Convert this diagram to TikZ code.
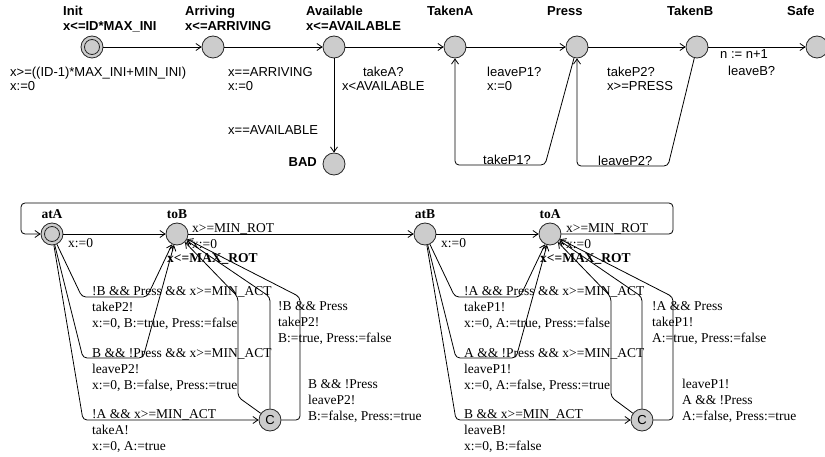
\documentclass[tikz,border=0pt]{standalone}
\usepackage{fontspec}
\setmainfont{Liberation Serif}
\setsansfont{Liberation Sans}
\usetikzlibrary{arrows.meta}
\tikzset{
  loc/.style={circle, draw=black!85, fill=gray!40, line width=.8pt,
    minimum size=22pt, inner sep=0pt},
  initloc/.style={loc, path picture={\draw[line width=.8pt]
      (path picture bounding box.center) circle (7.5pt);}},
  comloc/.style={loc, font=\sffamily\fontsize{13}{14}\selectfont},
  edge/.style={draw=black, line width=.8pt, rounded corners=4pt,
    -{Straight Barb[length=5pt,width=7pt]}},
  sflab/.style={inner sep=0pt, anchor=north west, align=left,
    font=\sffamily\fontsize{13}{14}\selectfont},
  sfname/.style={sflab, font=\sffamily\bfseries\fontsize{13}{15}\selectfont},
  rmlab/.style={inner sep=0pt, anchor=north west, align=left,
    font=\rmfamily\fontsize{13.5}{16}\selectfont},
  rmname/.style={inner sep=0pt, anchor=base,
    font=\rmfamily\bfseries\fontsize{13.5}{16}\selectfont},
}
\begin{document}
\begin{tikzpicture}[x=1pt,y=-1pt]
  \useasboundingbox (0,0) rectangle (825,457);
  % first automaton
  \node[initloc] (init) at (92,47) {};
  \node[loc] (arriving) at (213,47) {};
  \node[loc] (available) at (334,47) {};
  \node[loc] (takenA) at (455,47) {};
  \node[loc] (press) at (577,47) {};
  \node[loc] (takenB) at (697,47) {};
  \node[loc] (safe) at (817,47) {};
  \node[loc] (bad) at (334,164) {};
  \node[sfname] (initname) at (63,6) {Init\\x<=ID*MAX\_INI};
  \node[sfname] (arrivingname) at (185,6) {Arriving\\x<=ARRIVING};
  \node[sfname] (availablename) at (306,6) {Available\\x<=AVAILABLE};
  \node[sfname] (takenAname) at (427,6) {TakenA};
  \node[sfname] (pressname) at (547,6) {Press};
  \node[sfname] (takenBname) at (667,6) {TakenB};
  \node[sfname] (safename) at (787,6) {Safe};
  \node[sfname, anchor=north east] (badname) at (317,157) {BAD};
  \draw[edge] (init) -- (arriving);
  \draw[edge] (arriving) -- (available);
  \draw[edge] (available) -- (takenA);
  \draw[edge] (available) -- (bad);
  \draw[edge] (takenA) -- (press);
  \draw[edge] (press) -- (takenB);
  \draw[edge] (takenB) -- (safe);
  \draw[edge] (press) -- (545,165) -- (455,165) -- (takenA);
  \draw[edge] (takenB) -- (668,166) -- (577,166) -- (press);
  \node[sflab] (initguard) at (10,67) {x>=((ID-1)*MAX\_INI+MIN\_INI)\\x:=0};
  \node[sflab] (arrivingguard) at (228,67) {x==ARRIVING\\x:=0};
  \node[sflab] (badguard) at (228,125.5) {x==AVAILABLE};
  \node[sflab, align=center] (takeAsync) at (342,67) {takeA?\\x<AVAILABLE};
  \node[sflab] (leaveP1sync) at (487,67) {leaveP1?\\x:=0};
  \node[sflab] (takeP2sync) at (607,67) {takeP2?\\x>=PRESS};
  \node[sflab] (safeupdate) at (720,49.5) {n := n+1};
  \node[sflab] (leaveBsync) at (728,65.5) {leaveB?};
  \node[sflab] (takeP1sync) at (483,154.5) {takeP1?};
  \node[sflab] (leaveP2sync) at (598,155.5) {leaveP2?};
  % second automaton
  \node[initloc] (atA) at (52,234) {};
  \node[loc] (toB) at (177,234) {};
  \node[loc] (atB) at (425,234) {};
  \node[loc] (toA) at (550,234) {};
  \node[comloc] (cToB) at (270,420) {C};
  \node[comloc] (cToA) at (642,420) {C};
  \node[rmname] (atAname) at (52,219) {atA};
  \node[rmname] (toBname) at (177,219) {toB};
  \node[rmname] (atBname) at (425,219) {atB};
  \node[rmname] (toAname) at (550,219) {toA};
  \node[rmname, anchor=base west] (toBinv) at (167,262) {x<=MAX\_ROT};
  \node[rmname, anchor=base west] (toAinv) at (540,263) {x<=MAX\_ROT};
  \draw[edge] (toA) -- (673,234) -- (673,203) -- (21,203) -- (21,234) -- (atA);
  \draw[edge] (atA) -- (toB);
  \draw[edge] (toB) -- (atB);
  \draw[edge] (atB) -- (toA);
  \draw[edge] (atA) -- (82,297) -- (147,297) -- (toB);
  \draw[edge] (atA) -- (83,358) -- (143,358) -- (toB);
  \draw[edge] (atA) -- (83,420) -- (cToB);
  \draw[edge] (cToB) -- (238,397) -- (238,297) -- (toB);
  \draw[edge] (cToB) -- (270,297) -- (toB);
  \draw[edge] (cToB) -- (300,420) -- (300,297) -- (toB);
  \draw[edge] (atB) -- (455,297) -- (520,297) -- (toA);
  \draw[edge] (atB) -- (456,358) -- (516,358) -- (toA);
  \draw[edge] (atB) -- (456,420) -- (cToA);
  \draw[edge] (cToA) -- (611,397) -- (611,297) -- (toA);
  \draw[edge] (cToA) -- (642,297) -- (toA);
  \draw[edge] (cToA) -- (673,420) -- (673,297) -- (toA);
  \node[rmlab] (toBguard) at (192,223) {x>=MIN\_ROT\\x:=0};
  \node[rmlab] (toAguard) at (566,223) {x>=MIN\_ROT\\x:=0};
  \node[rmlab] (atAupdate) at (68,238) {x:=0};
  \node[rmlab] (atBupdate) at (441,238) {x:=0};
  \node[rmlab] (takeP2act) at (92,286) {!B \&\& Press \&\& x>=MIN\_ACT\\takeP2!\\x:=0, B:=true, Press:=false};
  \node[rmlab] (leaveP2act) at (92,348) {B \&\& !Press \&\& x>=MIN\_ACT\\leaveP2!\\x:=0, B:=false, Press:=true};
  \node[rmlab] (takeAact) at (92,409.5) {!A \&\& x>=MIN\_ACT\\takeA!\\x:=0, A:=true};
  \node[rmlab] (takeP2com) at (278,301) {!B \&\& Press\\takeP2!\\B:=true, Press:=false};
  \node[rmlab] (leaveP2com) at (308,379) {B \&\& !Press\\leaveP2!\\B:=false, Press:=true};
  \node[rmlab] (takeP1act) at (464,286) {!A \&\& Press \&\& x>=MIN\_ACT\\takeP1!\\x:=0, A:=true, Press:=false};
  \node[rmlab] (leaveP1act) at (464,348) {A \&\& !Press \&\& x>=MIN\_ACT\\leaveP1!\\x:=0, A:=false, Press:=true};
  \node[rmlab] (leaveBact) at (464,409.5) {B \&\& x>=MIN\_ACT\\leaveB!\\x:=0, B:=false};
  \node[rmlab] (takeP1com) at (652,301) {!A \&\& Press\\takeP1!\\A:=true, Press:=false};
  \node[rmlab] (leaveP1com) at (682,379) {leaveP1!\\A \&\& !Press\\A:=false, Press:=true};
\end{tikzpicture}
\end{document}
